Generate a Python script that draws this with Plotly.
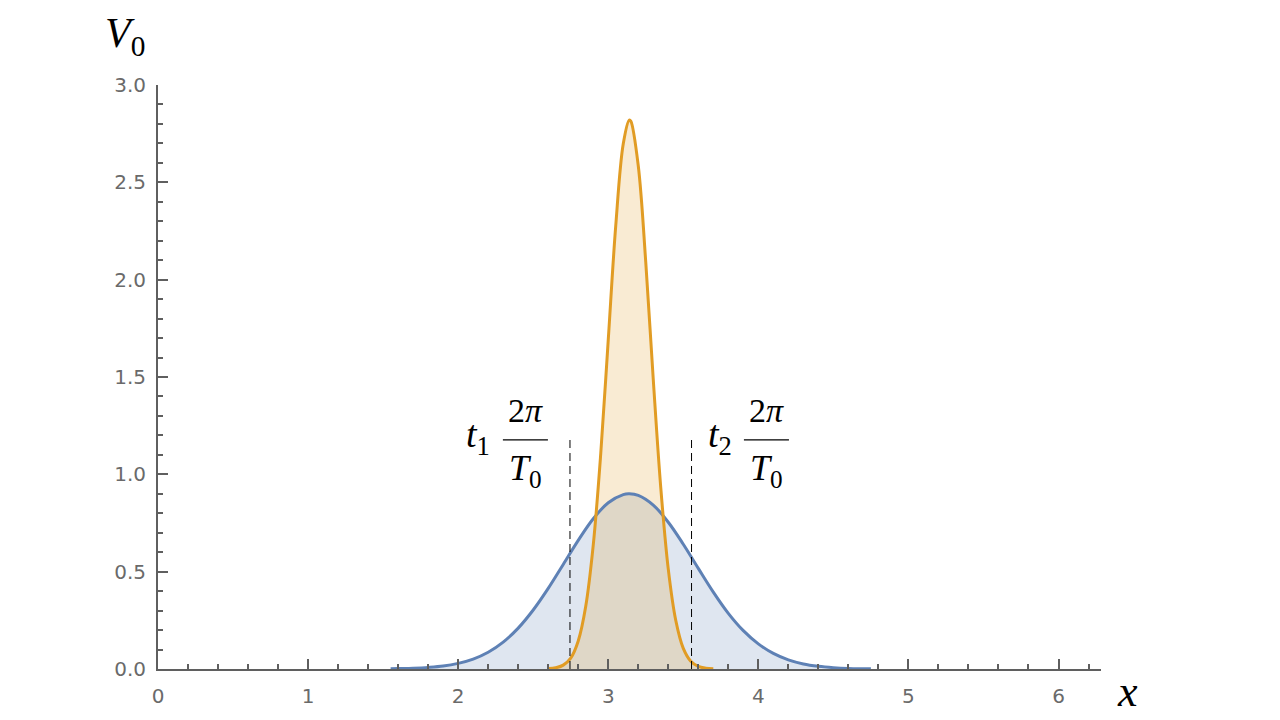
import plotly.graph_objects as go

# ---- data ----
blue_x = [1.55, 1.6, 1.7, 1.8, 1.9, 2.0, 2.1, 2.2, 2.3, 2.4, 2.5, 2.6, 2.7, 2.8, 2.9, 3.0, 3.1, 3.14,
          3.2, 3.3, 3.4, 3.5, 3.6, 3.7, 3.8, 3.9, 4.0, 4.1, 4.2, 4.3, 4.4, 4.5, 4.6, 4.7, 4.75]
blue_y = [0.001, 0.002, 0.004, 0.008, 0.015, 0.029, 0.051, 0.086, 0.138, 0.210, 0.303, 0.414, 0.537, 0.661,
          0.772, 0.854, 0.896, 0.900, 0.892, 0.842, 0.754, 0.641, 0.517, 0.395, 0.286, 0.197, 0.129,
          0.080, 0.047, 0.026, 0.014, 0.007, 0.003, 0.0015, 0.001]

orange_x = [2.60, 2.65, 2.70, 2.75, 2.80, 2.85, 2.90, 2.95, 3.00, 3.05, 3.10, 3.14, 3.15, 3.20,
            3.25, 3.30, 3.35, 3.40, 3.45, 3.50, 3.55, 3.60, 3.65, 3.70]
orange_y = [0.002, 0.006, 0.020, 0.056, 0.144, 0.322, 0.636, 1.106, 1.691, 2.277, 2.698, 2.820,
            2.815, 2.585, 2.089, 1.487, 0.931, 0.513, 0.249, 0.106, 0.040, 0.013, 0.004, 0.001]

marker_x = [2.745, 3.555]      # t1*2pi/T0 and t2*2pi/T0
marker_top = 1.18

x_range = [0, 6.2832]
y_range = [0, 3.0]

BLUE = "#5E81B5"
ORANGE = "#E19C24"

fig = go.Figure()

# fills first
fig.add_trace(go.Scatter(x=blue_x, y=blue_y, mode="lines", line=dict(width=0, shape="spline"),
                         fill="tozeroy", fillcolor="rgba(94,129,181,0.2)", hoverinfo="skip"))
fig.add_trace(go.Scatter(x=orange_x, y=orange_y, mode="lines", line=dict(width=0, shape="spline"),
                         fill="tozeroy", fillcolor="rgba(225,156,36,0.2)", hoverinfo="skip"))
# lines
fig.add_trace(go.Scatter(x=blue_x, y=blue_y, mode="lines",
                         line=dict(color=BLUE, width=3, shape="spline")))
fig.add_trace(go.Scatter(x=orange_x, y=orange_y, mode="lines",
                         line=dict(color=ORANGE, width=3, shape="spline")))

# dashed markers
for mx in marker_x:
    fig.add_trace(go.Scatter(x=[mx, mx], y=[0, marker_top], mode="lines",
                             line=dict(color="black", width=1, dash="8px,5px")))

AX = "#5f5f5f"
axis_common = dict(showgrid=False, zeroline=False, showline=True, linecolor=AX, linewidth=1.8,
                   ticks="inside", tickcolor=AX, tickwidth=1.5, ticklen=10,
                   tickfont=dict(family="DejaVu Sans", size=20, color="#6a6a6a"))

fig.update_xaxes(range=x_range, dtick=1, tick0=0,
                 minor=dict(dtick=0.2, tick0=0, ticks="inside", ticklen=5, tickcolor=AX, tickwidth=1.5),
                 ticklabelstandoff=8, **axis_common)
fig.update_yaxes(range=y_range, dtick=0.5, tick0=0, tickformat=".1f",
                 minor=dict(dtick=0.1, tick0=0, ticks="inside", ticklen=5, tickcolor=AX, tickwidth=1.5),
                 ticklabelstandoff=6, **axis_common)

SERIF = "Liberation Serif"
ann = []
# axis labels
ann.append(dict(xref="paper", yref="paper", x=-0.0345, y=1.084, text="<i>V</i><sub>0</sub>",
                showarrow=False, font=dict(family=SERIF, size=42, color="black"),
                xanchor="center", yanchor="middle"))
ann.append(dict(xref="paper", yref="paper", x=1.028, y=-0.038, text="<i>x</i>",
                showarrow=False, font=dict(family=SERIF, size=44, color="black"),
                xanchor="center", yanchor="middle"))
# fraction labels
for tx, fx, sub in [(2.135, 2.448, "1"), (3.747, 4.054, "2")]:
    ann.append(dict(xref="x", yref="y", x=tx, y=1.19, text=f"<i>t</i><sub>{sub}</sub>",
                    showarrow=False, font=dict(family=SERIF, size=38, color="black"),
                    xanchor="center", yanchor="middle"))
    ann.append(dict(xref="x", yref="y", x=fx, y=1.33, text="2<i>π</i>",
                    showarrow=False, font=dict(family=SERIF, size=34, color="black"),
                    xanchor="center", yanchor="middle"))
    ann.append(dict(xref="x", yref="y", x=fx, y=1.02, text="<i>T</i><sub>0</sub>",
                    showarrow=False, font=dict(family=SERIF, size=36, color="black"),
                    xanchor="center", yanchor="middle"))

shapes = []
for fx in [2.448, 4.054]:
    shapes.append(dict(type="line", xref="x", yref="y", x0=fx - 0.15, x1=fx + 0.15,
                       y0=1.177, y1=1.177, line=dict(color="black", width=1.2)))

# page body has an 8px default margin, so the figure is sized to fit inside the window
fig.update_layout(width=1272, height=712, showlegend=False,
                  plot_bgcolor="white", paper_bgcolor="white",
                  margin=dict(l=150, r=179, t=77, b=51),
                  annotations=ann, shapes=shapes)

fig.write_html("out.html")
